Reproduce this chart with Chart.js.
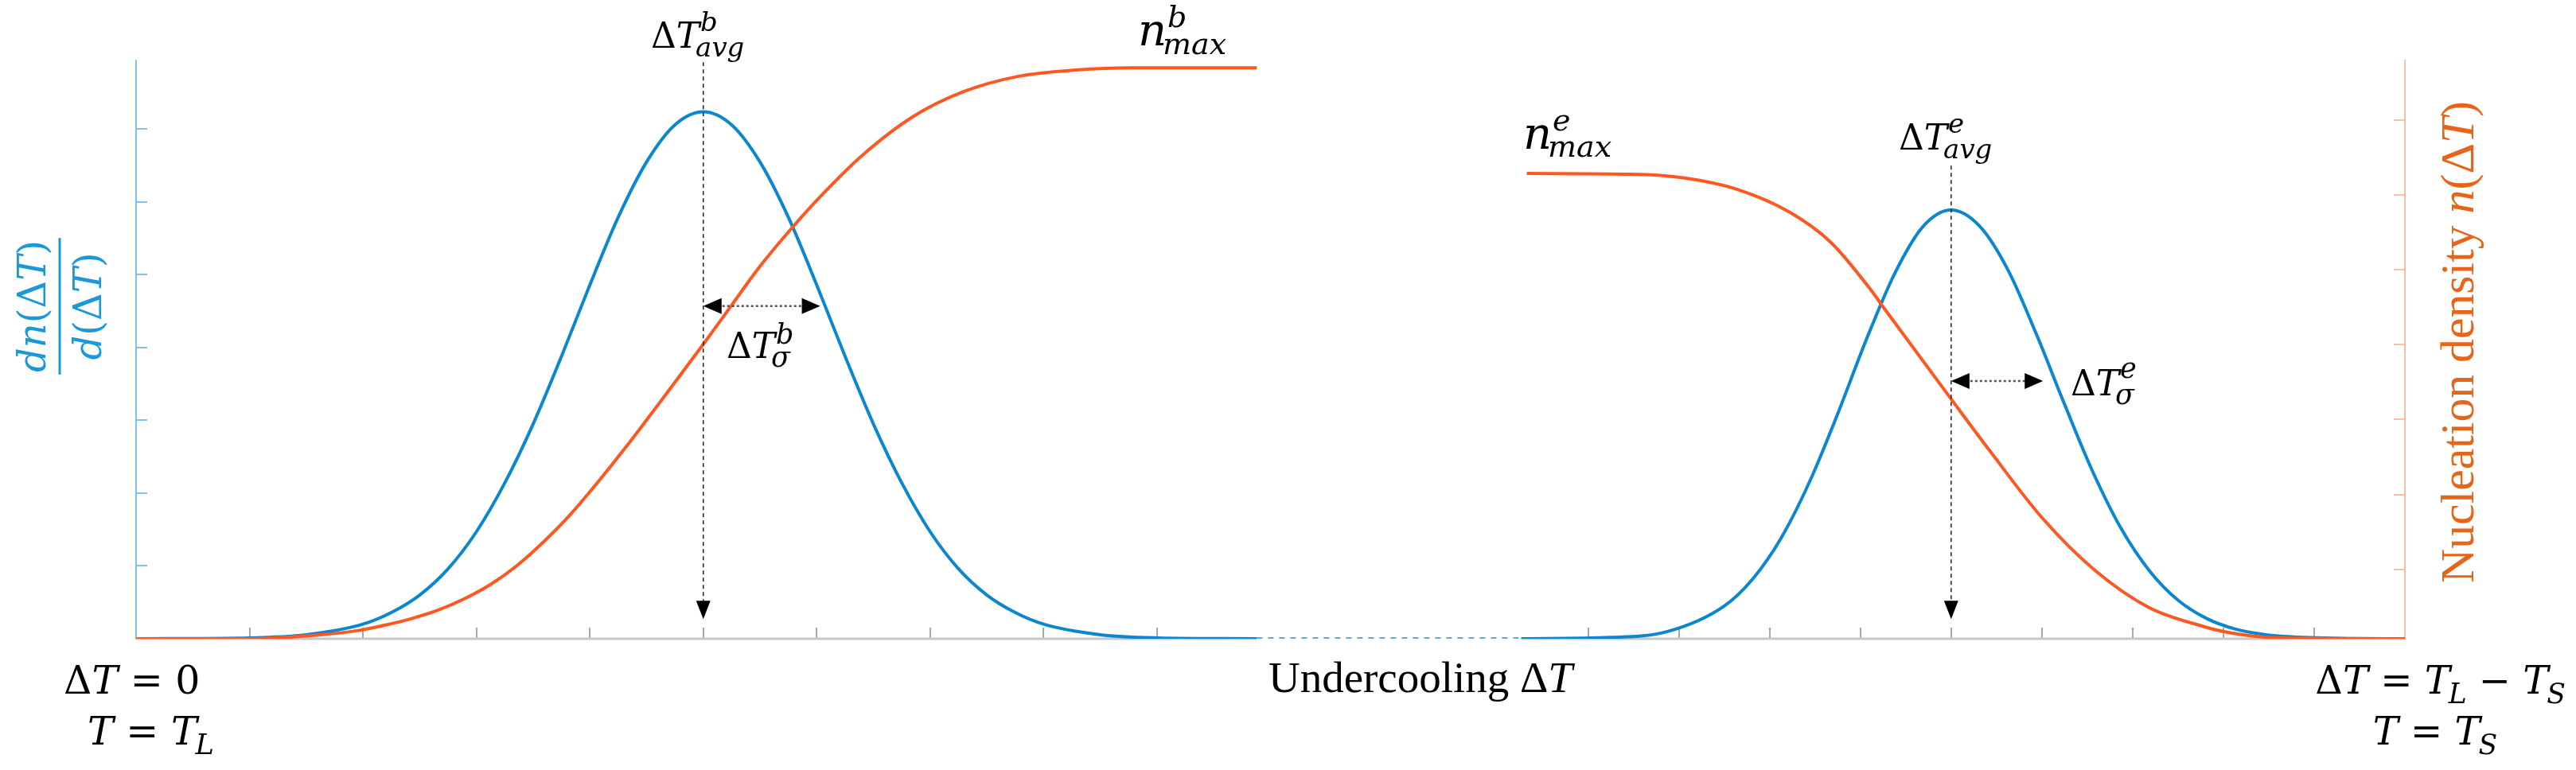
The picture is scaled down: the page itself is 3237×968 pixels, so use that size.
<!DOCTYPE html>
<html>
<head>
<meta charset="utf-8">
<script src="https://cdn.jsdelivr.net/npm/chart.js@4.4.1/dist/chart.umd.min.js"></script>
<style>
  html, body { margin: 0; padding: 0; background: #fff; }
  canvas { display: block; }
</style>
</head>
<body>
<canvas id="chart" width="3237" height="968"></canvas>
<script>
// Undercooling axis in arbitrary units: 0 = T_L, 20 = T_L - T_S (axis is broken between 9.88 and 12.21)
const rateBX = [0, 1.0, 1.5, 2.0, 2.25, 2.5, 2.75, 3.0, 3.25, 3.5, 3.75, 4.0, 4.25, 4.5, 4.75, 5.0,
                5.25, 5.5, 5.75, 6.0, 6.25, 6.5, 6.75, 7.0, 7.25, 7.5, 7.75, 8.0, 8.5, 9.0, 9.88];
const rateB  = [0, 0.012, 0.055, 0.2, 0.36, 0.6, 0.96, 1.47, 2.14, 2.95, 3.88, 4.86, 5.79, 6.55, 7.06, 7.24,
                7.06, 6.55, 5.79, 4.86, 3.88, 2.95, 2.14, 1.47, 0.96, 0.6, 0.36, 0.2, 0.055, 0.012, 0];

const densBX = [0, 1.0, 1.61, 1.96, 2.19, 2.43, 2.66, 2.89, 3.13, 3.36, 3.59, 3.83, 4.06, 4.34, 4.6, 5.0, 5.23,
                5.5, 5.78, 6.05, 6.4, 6.85, 7.29, 7.79, 8.28, 8.77, 9.88];
const densB  = [0, 0, 0.05, 0.11, 0.18, 0.27, 0.38, 0.53, 0.73, 0.98, 1.29, 1.66, 2.07, 2.6, 3.12, 3.93, 4.41,
                4.97, 5.48, 5.93, 6.45, 6.97, 7.3, 7.51, 7.59, 7.62, 7.62];

const rateEX = [12.21, 13.0, 13.5, 14.0, 14.25, 14.5, 14.75, 15.0, 15.25, 15.5, 15.75, 16.0, 16.25, 16.5, 16.75,
                17.0, 17.25, 17.5, 17.75, 18.0, 18.25, 18.5, 18.75, 19.0, 19.5, 20];
const rateE  = [0, 0.018, 0.1, 0.45, 0.82, 1.38, 2.15, 3.09, 4.1, 5.01, 5.66, 5.89, 5.67, 5.07, 4.19,
                3.22, 2.29, 1.51, 0.93, 0.53, 0.28, 0.135, 0.061, 0.026, 0.003, 0];

const densEX = [12.26, 13.18, 13.65, 14.11, 14.58, 14.94, 15.29, 15.4, 16.0, 16.34, 16.81, 17.27, 17.74, 18.21, 18.44, 18.91, 20];
const densE  = [6.21, 6.2, 6.15, 6.0, 5.69, 5.29, 4.66, 4.43, 3.2, 2.51, 1.6, 0.91, 0.42, 0.17, 0.085, 0.01, 0];

const gapX = [9.88, 12.21];
const axisSegments = [[0, 9.88], [12.21, 20]];
const xTicks = [1, 2, 3, 4, 5, 6, 7, 8, 9, 12.8, 13.6, 14.4, 15.2, 16.0, 16.8, 17.6, 18.4, 19.2];
const rateTicks = [1, 2, 3, 4, 5, 6, 7];
const densTicks = [0.925, 1.925, 2.925, 3.925, 4.925, 5.925, 6.925];

// annotation anchors, in data units (x, left axis)
const avgLines = [{x: 5, top: 7.92}, {x: 16, top: 6.5}];
const sigmaArrows = [{x0: 5, x1: 6.03, y: 4.57}, {x0: 16, x1: 16.81, y: 3.54}];
const arrowTipY = 0.27;

const blue = '#0a87cf';
const orange = '#ff5722';
const blueAxis = '#7cc4ec';
const orangeAxis = '#f9bfa8';
const math = '"DejaVu Serif"';
const serif = '"Liberation Serif"';

const toPts = (xs, ys) => xs.map((x, i) => ({x: x, y: ys[i]}));

function put(ctx, s, x, y, size, italic, family, color) {
    ctx.font = (italic ? 'italic ' : '') + size + 'px ' + family;
    ctx.fillStyle = color || '#000';
    ctx.fillText(s, x, y);
    return ctx.measureText(s).width;
}

// runs: [text, italic, 'sub'|undefined]
function runWidth(ctx, runs, size, family) {
    let w = 0;
    runs.forEach(r => {
        const sz = r[2] ? size * 0.72 : size;
        ctx.font = (r[1] ? 'italic ' : '') + sz + 'px ' + family;
        w += ctx.measureText(r[0]).width - (r[2] ? 2 : 0);
    });
    return w;
}

function drawRuns(ctx, runs, x, y, size, family, color) {
    let cx = x;
    runs.forEach(r => {
        if (r[2] === 'sub') {
            cx += put(ctx, r[0], cx - 2, y + size * 0.25, size * 0.72, r[1], family, color) - 2;
        } else {
            cx += put(ctx, r[0], cx, y, size, r[1], family, color);
        }
    });
    return cx - x;
}

// base with stacked superscript and subscript
function scripted(ctx, base, sup, sub, x, y, size, ss, supUp, subDown) {
    const w = drawRuns(ctx, base, x, y, size, math, '#000');
    put(ctx, sup, x + w + 1, y - supUp, ss, true, math);
    put(ctx, sub, x + w - 5, y + subDown, ss, true, math);
}

function arrowHead(ctx, tx, ty, dx, dy, len, half) {
    ctx.beginPath();
    ctx.moveTo(tx, ty);
    ctx.lineTo(tx - dx * len - dy * half, ty - dy * len + dx * half);
    ctx.lineTo(tx - dx * len + dy * half, ty - dy * len - dx * half);
    ctx.closePath();
    ctx.fill();
}

const annotations = {
    id: 'annotations',
    beforeDatasetsDraw(chart) {
        const {ctx, scales: {x, y}} = chart;
        const y0 = y.getPixelForValue(0);
        ctx.save();
        ctx.strokeStyle = '#c6c6c6';
        ctx.lineWidth = 3;
        axisSegments.forEach(seg => {
            ctx.beginPath();
            ctx.moveTo(x.getPixelForValue(seg[0]), y0);
            ctx.lineTo(x.getPixelForValue(seg[1]), y0);
            ctx.stroke();
        });
        ctx.restore();
    },
    afterDatasetsDraw(chart) {
        const {ctx, scales: {x, y}} = chart;
        ctx.save();
        ctx.strokeStyle = '#222';
        ctx.fillStyle = '#000';
        // dashed verticals at the mean undercoolings
        avgLines.forEach(a => {
            const px = x.getPixelForValue(a.x);
            const tip = y.getPixelForValue(arrowTipY);
            ctx.lineWidth = 1.5;
            ctx.setLineDash([5, 4]);
            ctx.beginPath();
            ctx.moveTo(px, y.getPixelForValue(a.top));
            ctx.lineTo(px, tip - 10);
            ctx.stroke();
            ctx.setLineDash([]);
            arrowHead(ctx, px, tip, 0, 1, 23, 9);
        });
        // standard deviation arrows
        sigmaArrows.forEach(s => {
            const p0 = x.getPixelForValue(s.x0), p1 = x.getPixelForValue(s.x1), py = y.getPixelForValue(s.y);
            ctx.lineWidth = 2.5;
            ctx.strokeStyle = '#555';
            ctx.setLineDash([3, 3]);
            ctx.beginPath();
            ctx.moveTo(p0 + 18, py);
            ctx.lineTo(p1 - 18, py);
            ctx.stroke();
            ctx.setLineDash([]);
            arrowHead(ctx, p0, py, -1, 0, 23, 10);
            arrowHead(ctx, p1, py, 1, 0, 23, 10);
        });
        ctx.restore();
    },
    afterDraw(chart) {
        const ctx = chart.ctx;
        ctx.save();
        ctx.textBaseline = 'alphabetic';
        const DT = [['Δ', false], ['T', true]];

        scripted(ctx, DT, 'b', 'avg', 818, 60, 44, 34, 21, 11);
        scripted(ctx, DT, 'e', 'avg', 2386, 188, 44, 34, 21, 11);
        scripted(ctx, [['n', true]], 'b', 'max', 1430, 57, 56, 38, 23, 11);
        scripted(ctx, [['n', true]], 'e', 'max', 1914, 187, 56, 38, 23, 10);
        scripted(ctx, DT, 'b', 'σ', 913, 450, 44, 35, 18, 11);
        scripted(ctx, DT, 'e', 'σ', 2602, 497, 44, 35, 22, 11);

        // axis end labels
        drawRuns(ctx, [['Δ', false], ['T', true], [' = 0', false]], 80, 872, 49, math, '#000');
        drawRuns(ctx, [['T', true], [' = ', false], ['T', true], ['L', true, 'sub']], 110, 936, 49, math, '#000');
        const endA = [['Δ', false], ['T', true], [' = ', false], ['T', true], ['L', true, 'sub'], [' − ', false],
                      ['T', true], ['S', true, 'sub']];
        drawRuns(ctx, endA, 3224 - runWidth(ctx, endA, 48, math), 872, 48, math, '#000');
        const endB = [['T', true], [' = ', false], ['T', true], ['S', true, 'sub']];
        drawRuns(ctx, endB, 3060 - runWidth(ctx, endB, 48, math) / 2, 936, 48, math, '#000');

        // x axis title, fitted to the reference width
        const xt = [['Undercooling Δ', false], ['T', true]];
        let sz = 48;
        sz = sz * 382 / runWidth(ctx, xt, sz, serif);
        drawRuns(ctx, xt, 1785 - 382 / 2, 870, sz, serif, '#000');

        // left title: fraction dn(ΔT) / d(ΔT), rotated
        ctx.save();
        ctx.translate(75, 385);
        ctx.rotate(-Math.PI / 2);
        const num = [['dn', true], ['(', false], ['Δ', false], ['T', true], [')', false]];
        const den = [['d', true], ['(', false], ['Δ', false], ['T', true], [')', false]];
        const fs = 48;
        const nw = runWidth(ctx, num, fs, math), dw = runWidth(ctx, den, fs, math);
        drawRuns(ctx, num, -nw / 2, -18, fs, math, '#1a98da');
        drawRuns(ctx, den, -dw / 2, 52, fs, math, '#1a98da');
        ctx.fillStyle = '#1a98da';
        ctx.fillRect(-Math.max(nw, dw) / 2 - 3, -1.5, Math.max(nw, dw) + 6, 3);
        ctx.restore();

        // right title, rotated
        ctx.save();
        ctx.translate(3108, 430);
        ctx.rotate(-Math.PI / 2);
        const rt = [['Nucleation density ', false], ['n', true], ['(Δ', false], ['T', true], [')', false]];
        let rs = 50;
        rs = rs * 606 / runWidth(ctx, rt, rs, serif);
        drawRuns(ctx, rt, -303, 0, rs, serif, '#e5661a');
        ctx.restore();

        ctx.restore();
    }
};

const lineStyle = {
    showLine: true,
    fill: false,
    pointRadius: 0,
    borderWidth: 4,
    cubicInterpolationMode: 'monotone'
};

new Chart(document.getElementById('chart'), {
    type: 'scatter',
    data: {
        datasets: [
            Object.assign({label: 'n b', data: toPts(densBX, densB), borderColor: orange, yAxisID: 'y2', order: 0}, lineStyle),
            Object.assign({label: 'n e', data: toPts(densEX, densE), borderColor: orange, yAxisID: 'y2', order: 0}, lineStyle),
            Object.assign({label: 'dn b', data: toPts(rateBX, rateB), borderColor: blue, yAxisID: 'y', order: 1}, lineStyle),
            Object.assign({label: 'dn e', data: toPts(rateEX, rateE), borderColor: blue, yAxisID: 'y', order: 1}, lineStyle),
            Object.assign({}, lineStyle, {label: 'break', data: toPts(gapX, [0, 0]), borderColor: '#5aa8e6',
                borderDash: [7, 7], borderWidth: 4, yAxisID: 'y', order: 2})
        ]
    },
    options: {
        responsive: false,
        devicePixelRatio: 1,
        animation: false,
        layout: {padding: {top: 76, left: 0, right: 0, bottom: 0}},
        plugins: {legend: {display: false}, tooltip: {enabled: false}},
        scales: {
            x: {
                type: 'linear', min: 0, max: 20,
                border: {display: false},
                grid: {drawOnChartArea: false, tickLength: -14, color: '#a8a8a8', lineWidth: 2},
                ticks: {display: false},
                afterBuildTicks: s => { s.ticks = xTicks.map(v => ({value: v})); },
                afterFit: s => { s.height = 165; }
            },
            y: {
                position: 'left', min: 0, max: 7.945,
                border: {display: true, color: blueAxis, width: 2},
                grid: {drawOnChartArea: false, tickLength: -14, color: blueAxis, lineWidth: 2},
                ticks: {display: false},
                afterBuildTicks: s => { s.ticks = rateTicks.map(v => ({value: v})); },
                afterFit: s => { s.width = 171; }
            },
            y2: {
                position: 'right', min: 0, max: 7.718,
                border: {display: true, color: orangeAxis, width: 2},
                grid: {drawOnChartArea: false, tickLength: -14, color: orangeAxis, lineWidth: 2},
                ticks: {display: false},
                afterBuildTicks: s => { s.ticks = densTicks.map(v => ({value: v})); },
                afterFit: s => { s.width = 215; }
            }
        }
    },
    plugins: [annotations]
});
</script>
</body>
</html>
